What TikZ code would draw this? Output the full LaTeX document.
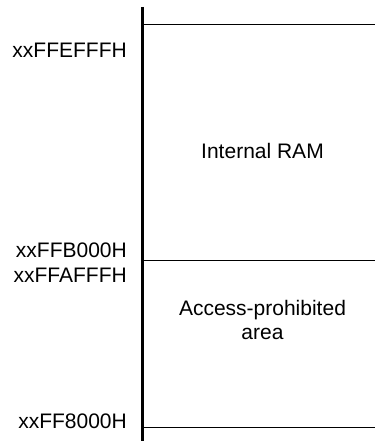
\documentclass[tikz,border=0pt]{standalone}
\usepackage{fontspec}
\setmainfont{Liberation Sans}
\usepackage{tikz}

\tikzset{
  addr/.style={anchor=base east, inner sep=0pt, font=\fontsize{21}{24}\selectfont},
  area/.style={anchor=base, align=center, inner sep=0pt, font=\fontsize{21}{24}\selectfont}
}

\begin{document}
\begin{tikzpicture}[x=1pt,y=-1pt]
\useasboundingbox (0,0) rectangle (375,441) ;

% address axis and block borders
\coordinate (top) at (142.7,7) ;
\coordinate (bot) at (142.7,441) ;
\draw [line width=3pt] (top) -- (bot) ;
\draw [line width=1pt] (143,24.5) -- (375,24.5) ;
\draw [line width=1pt] (143,260.5) -- (375,260.5) ;
\draw [line width=1pt] (143,427) -- (375,427) ;

% addresses
\node [addr] (ramtop) at (127,58) {xxFFEFFFH} ;
\node [addr] (rambot) at (127,257) {xxFFB000H} ;
\node [addr] (protop) at (127,282) {xxFFAFFFH} ;
\node [addr] (probot) at (127,428) {xxFF8000H} ;

% block names
\node [area] (ram) at (262.5,158) {Internal RAM} ;
\node [area] (prohib) at (262.5,339) {Access-prohibited\\area} ;
\end{tikzpicture}
\end{document}
